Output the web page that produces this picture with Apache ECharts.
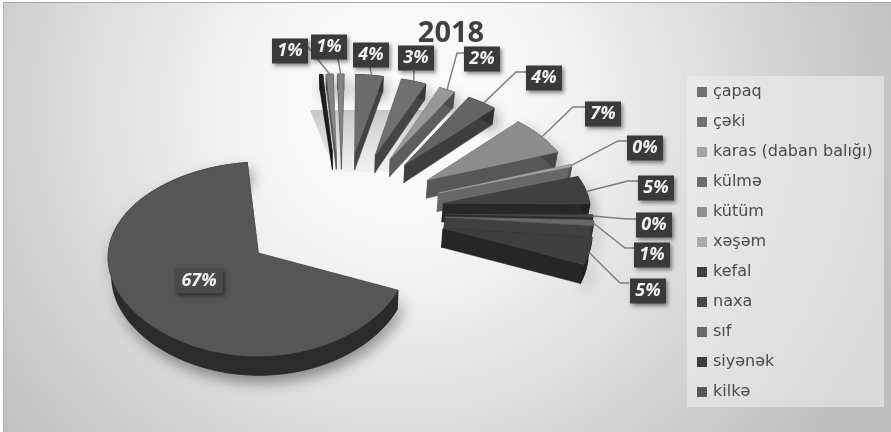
<!DOCTYPE html>
<html>
<head>
<meta charset="utf-8">
<style>html,body{margin:0;padding:0;background:#fff}#chart{width:891px;height:432px}</style>
<script src="https://cdn.jsdelivr.net/npm/echarts@6/dist/echarts.min.js"></script>
</head>
<body>
<div id="chart"></div>
<script>
// Species listed in the legend, in clockwise slice order.
const categories = ['çapaq', 'çəki', 'karas (daban balığı)', 'külmə', 'kütüm', 'xəşəm', 'kefal', 'naxa', 'sıf', 'siyənək', 'kilkə'];
// Catch share per slice (percent). The last three slices have no legend row.
const shares = [3.6, 3.2, 2.0, 3.6, 7.0, 0.4, 5.0, 0.4, 1.0, 4.6, 67.1, 0.4, 0.9, 0.8];
// Which slices carry a data label.
const labelled = [1, 1, 1, 1, 1, 1, 1, 1, 1, 1, 1, 0, 1, 1];
const sliceGreys = [0x6c, 0x70, 0x98, 0x64, 0x8c, 0xa6, 0x40, 0x48, 0x68, 0x3e, 0x56, 0x24, 0x84, 0x84];
const legendGreys = [0x70, 0x70, 0xa4, 0x6c, 0x90, 0xaa, 0x40, 0x48, 0x6a, 0x3c, 0x58];

// Label box centres and the leader's points before it reaches its slice.
const labelBoxes = [[371, 55], [416, 58], [482, 59], [544, 78], [603, 114], [645, 148], [656, 188], [654, 225], [652, 255], [648, 291], [199, 281], null, [290, 51], [329, 47]];
const leaderStarts = [
  [[370, 67]], [[414, 71]], [[464, 53], [457, 53]], [[526, 72], [516, 72]], [[585, 107], [573, 107]],
  [[627, 141], [618, 141]], [[638, 181], [628, 181]], [[636, 219], [627, 219]], [[634, 248], [625, 248]],
  [[629, 283], [620, 283]], null, null, [[308, 47]], [[338, 59]]
];

// Oblique view of an exploded pie.
const view = { cx: 342, cy: 213, radius: 150, explode: 105, depth: 19, startAngle: 1.1 };

function grey(v, f) {
  const c = Math.round(v * (f === undefined ? 1 : f));
  return 'rgb(' + c + ',' + c + ',' + c + ')';
}
function project(X, Y, z) {
  const u = Y - 62;
  const s = 1 + 0.000218 * u - 0.00000115 * u * u;
  const shrink = z ? 0.985 : 1;
  return [
    view.cx + X * s * shrink,
    view.cy + 0.6132 * Y + 0.000267 * Y * Y + (z ? view.depth * s : 0)
  ];
}
function rad(d) { return d * Math.PI / 180; }

// Angular extents from the shares.
const total = shares.reduce((a, b) => a + b, 0);
const spans = [];
let cursor = view.startAngle;
shares.forEach(v => {
  const sweep = v / total * 360;
  spans.push([cursor, cursor + sweep]);
  cursor += sweep;
});

function sliceGeometry(a0, a1) {
  const mid = rad((a0 + a1) / 2);
  const ox = Math.sin(mid) * view.explode;
  const oy = -Math.cos(mid) * view.explode;
  const rim = [];
  const steps = Math.max(2, Math.ceil((a1 - a0) / 2));
  for (let i = 0; i <= steps; i++) {
    const t = rad(a0 + (a1 - a0) * i / steps);
    rim.push([ox + Math.sin(t) * view.radius, oy - Math.cos(t) * view.radius]);
  }
  return { apex: [ox, oy], rim };
}

function renderSlice(params, api) {
  const g = sliceGeometry(api.value(0), api.value(1));
  const tone = api.value(2);
  const top = p => project(p[0], p[1], false);
  const bot = p => project(p[0], p[1], true);
  const wallA = [top(g.apex), top(g.rim[0]), bot(g.rim[0]), bot(g.apex)];
  const last = g.rim[g.rim.length - 1];
  const wallB = [top(g.apex), top(last), bot(last), bot(g.apex)];
  const strip = g.rim.map(top).concat(g.rim.slice().reverse().map(bot));
  const face = [top(g.apex)].concat(g.rim.map(top));
  const poly = (points, fill, extra) => ({
    type: 'polygon', shape: { points },
    style: Object.assign({ fill, stroke: fill, lineWidth: 0.5 }, extra || {})
  });
  const drop = poly(strip, grey(tone, 0.5), {
    shadowColor: 'rgba(0,0,0,0.4)', shadowBlur: 14, shadowOffsetY: 7, shadowOffsetX: 3
  });
  return {
    type: 'group',
    children: [
      drop,
      poly(wallA, grey(tone, 0.62)),
      poly(wallB, grey(tone, 0.62)),
      poly(strip, grey(tone, 0.5)),
      poly(face, grey(tone))
    ]
  };
}

function renderLabel(params, api) {
  const i = api.value(0);
  const box = labelBoxes[i];
  const text = Math.round(shares[i]) + '%';
  const wide = text.length > 2 ? 48 : 36;
  const children = [];
  if (leaderStarts[i]) {
    const g = sliceGeometry(spans[i][0], spans[i][1]);
    const rimMid = project(...g.rim[Math.floor(g.rim.length / 2)], false);
    children.push({
      type: 'polyline',
      shape: { points: leaderStarts[i].concat([rimMid]) },
      style: { fill: null, stroke: '#7d7d7d', lineWidth: 1.4 }
    });
  }
  children.push({
    type: 'rect',
    shape: { x: box[0] - wide / 2, y: box[1] - 12.5, width: wide, height: 25 },
    style: {
      fill: text.length > 2 ? '#4a4a4a' : '#3a3a3a',
      shadowColor: 'rgba(0,0,0,0.45)', shadowBlur: 4, shadowOffsetX: 2, shadowOffsetY: 2
    }
  });
  children.push({
    type: 'text',
    style: {
      text, x: box[0], y: box[1], align: 'center', verticalAlign: 'middle',
      fill: '#f2f2f2', font: 'italic 700 18px "Open Sans"'
    }
  });
  return { type: 'group', children };
}

const sliceSeries = shares.map((v, i) => ({
  type: 'custom',
  name: categories[i] || '',
  coordinateSystem: 'none',
  z: i > 10 ? 2 : 3 + i,
  silent: true,
  animation: false,
  itemStyle: { color: grey(i < legendGreys.length ? legendGreys[i] : sliceGreys[i]) },
  renderItem: renderSlice,
  data: [[spans[i][0], spans[i][1], sliceGreys[i]]]
}));

const labelSeries = {
  type: 'custom',
  name: 'labels',
  coordinateSystem: 'none',
  z: 30,
  silent: true,
  animation: false,
  renderItem: renderLabel,
  data: shares.map((v, i) => [i]).filter(d => labelled[d[0]])
};

const chart = echarts.init(document.getElementById('chart'), null, { renderer: 'canvas' });
chart.setOption({
  animation: false,
  backgroundColor: {
    type: 'radial', x: 0.45, y: 0.25, r: 1.22,
    colorStops: [
      { offset: 0, color: '#ffffff' },
      { offset: 0.3, color: '#f4f4f4' },
      { offset: 1, color: '#bebebe' }
    ]
  },
  title: {
    text: '2018', left: 446, top: 14, textAlign: 'center',
    textStyle: { color: '#404040', fontFamily: '"Open Sans"', fontWeight: 'bold', fontSize: 29 }
  },
  graphic: [
    // White page margin with the chart frame's hairline.
    { type: 'rect', z: 0, shape: { x: 0, y: 0, width: 891, height: 2 }, style: { fill: '#ffffff' } },
    { type: 'rect', z: 0, shape: { x: 0, y: 0, width: 3, height: 432 }, style: { fill: '#ffffff' } },
    { type: 'rect', z: 0, shape: { x: 3, y: 2, width: 888, height: 1 }, style: { fill: '#a8a8a8' } },
    { type: 'rect', z: 0, shape: { x: 3, y: 2, width: 1, height: 430 }, style: { fill: '#b0b0b0' } },
    // Pale panel behind the legend.
    { type: 'rect', z: 0, shape: { x: 687, y: 76, width: 197, height: 331 }, style: { fill: 'rgba(240,240,240,0.55)' } },
    // Soft floor shadow under the narrow back slices.
    { type: 'polygon', z: 1, shape: { points: [[310, 110], [425, 110], [392, 172], [335, 172]] },
      style: {
        fill: {
          type: 'linear', x: 0, y: 0, x2: 0, y2: 1,
          colorStops: [{ offset: 0, color: 'rgba(170,170,170,0.65)' }, { offset: 1, color: 'rgba(200,200,200,0.2)' }]
        }
      } }
  ],
  legend: {
    orient: 'vertical', left: 697, top: 84,
    itemWidth: 10, itemHeight: 10, itemGap: 14, selectedMode: false,
    icon: 'rect', padding: 0,
    data: categories,
    textStyle: { color: '#4a4a4a', fontFamily: '"DejaVu Sans"', fontSize: 16, height: 16, lineHeight: 16, padding: [0, 0, 0, 1] }
  },
  series: sliceSeries.concat([labelSeries])
});
</script>
</body>
</html>
